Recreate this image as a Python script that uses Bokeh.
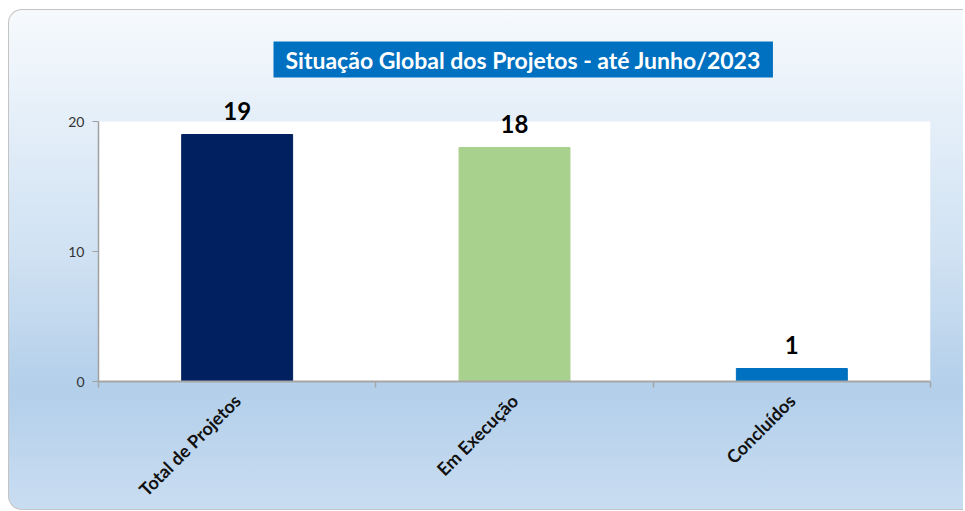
from bokeh.plotting import figure
from bokeh.models import ColumnDataSource, FixedTicker, LabelSet, Range1d, BoxAnnotation
from bokeh.core.properties import value
from bokeh.embed import file_html
from bokeh.resources import INLINE
from math import pi

categories = ["Total de Projetos", "Em Execução", "Concluídos"]
values = [19, 18, 1]
colors = ["#002060", "#a9d18e", "#0070c0"]
y_ticks = [0, 10, 20]
y_max = 20

xs = [i + 0.5 for i in range(len(categories))]
src = ColumnDataSource(dict(x=xs, top=values, color=colors, label=[str(v) for v in values]))

p = figure(width=955, height=501, output_backend="svg", toolbar_location=None,
           x_range=Range1d(0, len(categories)), y_range=Range1d(0, y_max + 2),
           min_border_left=89, min_border_right=34, min_border_top=85, min_border_bottom=126)

p.styles = {
    "margin": "9px 0 0 8px",
    "background-image": "linear-gradient(to bottom, #f7fafd 0%, #e2edf8 25%, #cfe1f2 50%, #b3cfea 76%, #c9ddf1 100%)",
    "border": "1px solid #c4c4c4",
    "border-right": "none",
    "border-radius": "14px 0 0 14px",
}
p.border_fill_alpha = 0
p.background_fill_alpha = 0
p.outline_line_color = None
p.grid.visible = False

# white plot area up to the axis maximum
p.add_layout(BoxAnnotation(left=0, right=len(categories), bottom=0, top=y_max,
                           fill_color="white", fill_alpha=1, line_color=None, level="underlay"))

p.vbar(x="x", top="top", width=0.4, color="color", source=src)

labels = LabelSet(x="x", y="top", text="label", source=src, text_align="center",
                  text_baseline="alphabetic", y_offset=15, text_font=value("Lato"),
                  text_font_style="bold", text_font_size="24px", text_color="black")
p.add_layout(labels)

# title
p.title.text = "Situação Global dos Projetos - até Junho/2023"
p.title.align = "left"
p.title.text_font = "Lato"
p.title.text_font_style = "bold"
p.title.text_font_size = "23px"
p.title.text_color = "white"
p.title.background_fill_color = "#0070c0"
p.title.padding = dict(left=12, right=12, top=4, bottom=4)
p.title.standoff = 36
p.title.offset = 175

# y axis
p.yaxis.ticker = FixedTicker(ticks=y_ticks, minor_ticks=[])
p.yaxis.bounds = (0, y_max)
p.yaxis.axis_line_color = "#a0a0a0"
p.yaxis.axis_line_width = 1.5
p.yaxis.major_tick_line_color = "#a0a0a0"
p.yaxis.major_tick_in = 0
p.yaxis.major_tick_out = 6
p.yaxis.major_label_standoff = 8
p.yaxis.major_label_text_font = "Lato"
p.yaxis.major_label_text_font_size = "14px"
p.yaxis.major_label_text_color = "#333333"

# x axis
p.xaxis.ticker = FixedTicker(ticks=xs, minor_ticks=list(range(len(categories) + 1)))
p.xaxis.major_label_overrides = {x: c for x, c in zip(xs, categories)}
p.xaxis.major_label_orientation = pi / 4
p.xaxis.axis_line_color = "#a6a6a6"
p.xaxis.axis_line_width = 2
p.xaxis.major_tick_line_color = None
p.xaxis.major_tick_out = 6
p.xaxis.minor_tick_line_color = "#a6a6a6"
p.xaxis.minor_tick_line_width = 1.5
p.xaxis.minor_tick_in = 0
p.xaxis.minor_tick_out = 6
p.xaxis.major_label_standoff = 10
p.xaxis.major_label_text_font = "Lato"
p.xaxis.major_label_text_font_style = "bold"
p.xaxis.major_label_text_font_size = "18px"
p.xaxis.major_label_text_color = "#111111"

open("out.html", "w").write(file_html(p, INLINE))
